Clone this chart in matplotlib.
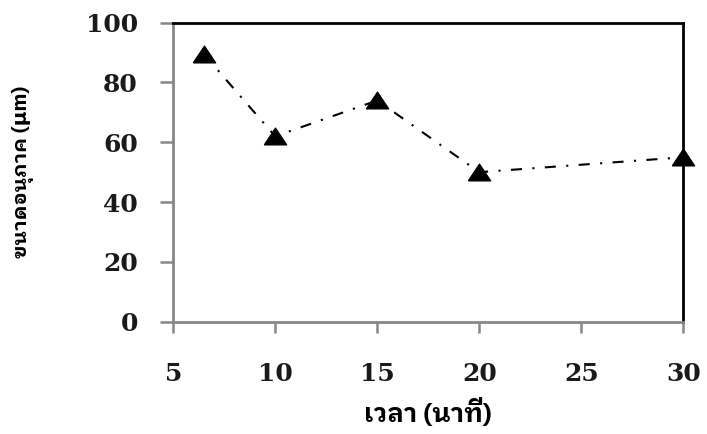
import matplotlib
matplotlib.use("Agg")
import matplotlib.pyplot as plt

# particle size over time
time_min = [6.5, 10, 15, 20, 30]
size_um = [89.5, 62, 74, 50, 55]

x_ticks = [5, 10, 15, 20, 25, 30]
y_ticks = [0, 20, 40, 60, 80, 100]

thai_font = ["IBM Plex Sans Thai Looped", "DejaVu Sans"]
tick_font = {"family": "DejaVu Serif", "weight": "bold", "size": 18}

fig = plt.figure(figsize=(7.07, 4.34), dpi=100)
ax = fig.add_axes([0.245, 0.2588, 0.7215, 0.6889])

# flattened triangle marker like the spreadsheet one
tri = [(-1, -0.75), (1, -0.75), (0, 0.75), (-1, -0.75)]
ax.plot(time_min, size_um, color="black", linewidth=1.5,
        linestyle=(0, (5.3, 5.0, 1, 5.0)),
        marker=tri, markersize=16, markerfacecolor="black",
        markeredgecolor="black", clip_on=False, zorder=3)

ax.set_xlim(5, 30)
ax.set_ylim(0, 100)
ax.set_xticks(x_ticks)
ax.set_yticks(y_ticks)
ax.set_xticklabels([str(v) for v in x_ticks], fontdict=tick_font)
ax.set_yticklabels([str(v) for v in y_ticks], fontdict=tick_font)

for side in ["left", "bottom"]:
    ax.spines[side].set_color("#878787")
    ax.spines[side].set_linewidth(2.0)
for side in ["top", "right"]:
    ax.spines[side].set_color("black")
    ax.spines[side].set_linewidth(2.0)

ax.tick_params(axis="y", direction="out", length=9.5, width=1.8,
               color="#878787", pad=16, labelcolor="#1a1a1a")
ax.tick_params(axis="x", direction="out", length=8, width=1.8,
               color="#878787", pad=21, labelcolor="#1a1a1a")

ax.set_xlabel("เวลา (นาที)", family=thai_font, fontweight="bold",
              fontsize=18.5, labelpad=9)
ax.set_ylabel("ขนาดอนุภาค (μm)", family=thai_font, fontweight="bold",
              fontsize=14.5, labelpad=37)

fig.savefig("out.png", dpi=100)
